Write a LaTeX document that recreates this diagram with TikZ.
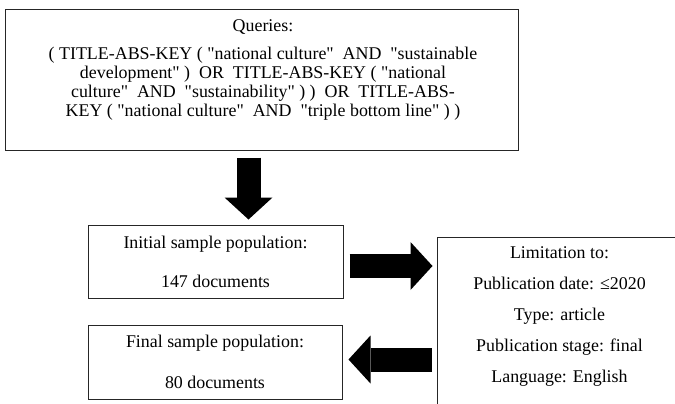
\documentclass[tikz,border=0pt]{standalone}
\usepackage{fontspec}
\defaultfontfeatures[\rmfamily]{}
\setmainfont{Liberation Serif}
\usetikzlibrary{arrows.meta, positioning}
\tikzset{
    box/.style={draw=black!85, line width=1pt, inner sep=0pt},
    boxtext/.style={align=center, font=\fontsize{17.9}{19}\selectfont},
    fat/.style={line width=24pt,
        -{Triangle[length=22pt, width=48pt, line width=0pt]}},
}
\begin{document}
\begin{tikzpicture}[x=1pt, y=-1pt]
    \useasboundingbox (0,0) rectangle (675,404);
    % boxes
    \node[box, minimum width=513pt, minimum height=140pt] (query) at (261.5,80) {};
    \node[boxtext] (querytext) at (263,70) {Queries:\\[9pt]
        ( TITLE-ABS-KEY ( "national culture"\ \ AND\ \ "sustainable\\
        development" )\ \ OR\ \ TITLE-ABS-KEY ( "national\\
        culture"\ \ AND\ \ "sustainability" ) )\ \ OR\ \ TITLE-ABS-\\
        KEY ( "national culture"\ \ AND\ \ "triple bottom line" ) )};
    \node[box, boxtext, minimum width=255pt, minimum height=73pt] (init)
        at (215.5,261.5) {Initial sample population:\\[20pt]147 documents};
    \node[box, boxtext, minimum width=254pt, minimum height=74pt] (final)
        at (215,362) {Final sample population:\\[22pt]80 documents};
    \node[box, minimum width=253pt, minimum height=183pt] (lim) at (563.5,328.5) {};
    \node[boxtext] (limtext) at (559.5,317) {Limitation to:\\[12pt]
        Publication date: ≤2020\\[12pt]
        Type: article\\[12pt]
        Publication stage: final\\[12pt]
        Language: English};
    % arrows
    \draw[fat, shorten <=7pt, shorten >=5pt] ([xshift=33pt]init.north |- query.south)
        -- ([xshift=33pt]init.north);
    \draw[fat, shorten <=6pt, shorten >=4pt] ([yshift=-4.5pt]init.east)
        -- ([yshift=-4.5pt]init.east -| lim.west);
    \draw[fat, shorten <=5pt, shorten >=6pt] ([yshift=2.5pt]final.east -| lim.west)
        -- ([yshift=2.5pt]final.east);
\end{tikzpicture}
\end{document}
